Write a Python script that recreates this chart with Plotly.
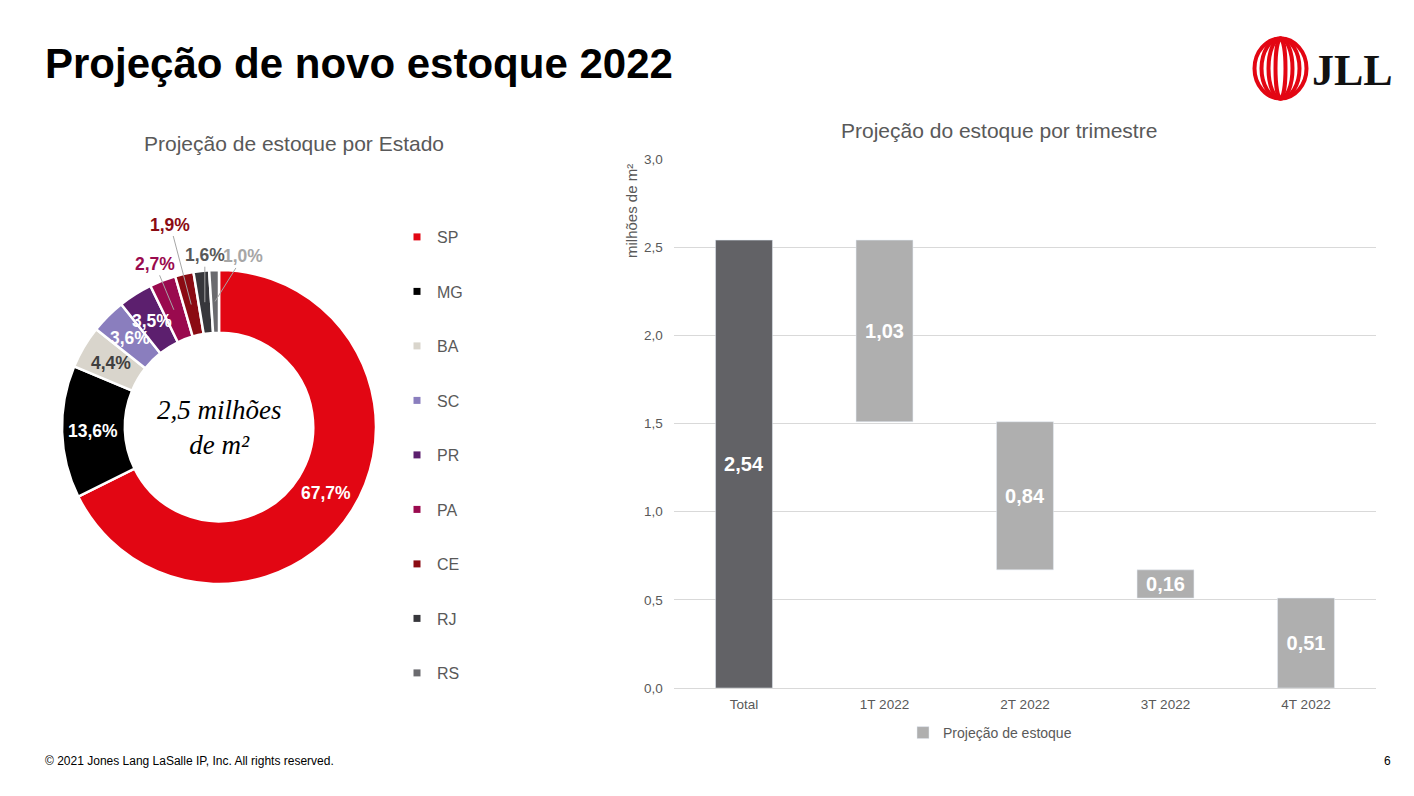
import math
import plotly.graph_objects as go

W, H = 1414, 796

# ---------------- data ----------------
states = ["SP", "MG", "BA", "SC", "PR", "PA", "CE", "RJ", "RS"]
shares = [67.7, 13.6, 4.4, 3.6, 3.5, 2.7, 1.9, 1.6, 1.0]

quarters = ["Total", "1T 2022", "2T 2022", "3T 2022", "4T 2022"]
total_stock = 2.54
quarter_values = [1.03, 0.84, 0.16, 0.51]
y_ticks = [0.0, 0.5, 1.0, 1.5, 2.0, 2.5, 3.0]

# ---------------- styles ----------------
state_colors = ["#E20613", "#000000", "#D9D5CC", "#8A7EBE", "#5C1F6E",
                "#9A0A4E", "#8B0B13", "#37373B", "#6B6B6F"]
label_colors = ["#FFFFFF", "#FFFFFF", "#404040", "#FFFFFF", "#FFFFFF",
                "#9A0A4E", "#8B0B13", "#595959", "#A6A6A6"]
# pixel offsets of outside labels (None = label inside ring)
label_offsets = [None, None, None, None, None, (-19, -46), (-21, -80), (0, -47), (28, -45)]
HOLE = 0.6
GREY_TXT = "#595959"
FONT = "Liberation Sans, Arial, sans-serif"
SERIF = "Liberation Serif, Times New Roman, serif"


def px(x):
    return x / W


def py(y):
    return (H - y) / H


def fmt(v, d):
    return f"{v:.{d}f}".replace(".", ",")


fig = go.Figure()

# ---------------- donut ----------------
pie_x = [px(62), px(376)]
pie_y = [py(584), py(270)]
fig.add_trace(go.Pie(
    labels=states, values=shares, hole=HOLE, sort=False, direction="clockwise",
    rotation=0, textinfo="none", showlegend=False, hoverinfo="label+percent",
    marker=dict(colors=state_colors, line=dict(color="white", width=2.5)),
    domain=dict(x=pie_x, y=pie_y),
))

# legend entries for the states (own legend with spacing)
for s, c in zip(states, state_colors):
    fig.add_trace(go.Scatter(
        x=[None], y=[None], mode="markers", name=s, legendgroup=s,
        marker=dict(symbol="square", size=7, color=c),
        xaxis="x2", yaxis="y2", legend="legend", showlegend=True,
    ))

# ---------------- waterfall ----------------
bases = []
remaining = total_stock
for v in quarter_values:
    remaining = round(remaining - v, 2)
    bases.append(remaining)

fig.add_trace(go.Bar(
    x=[quarters[0]], y=[total_stock], marker_color="#626266", width=0.405,
    text=[fmt(total_stock, 2)], textposition="inside", insidetextanchor="middle",
    textfont=dict(color="white", size=20, family=FONT, weight="bold"),
    constraintext="none", showlegend=False, name="Total",
))
fig.add_trace(go.Bar(
    x=quarters[1:], y=quarter_values, base=bases, marker_color="#AFAFAF", width=0.405,
    text=[fmt(v, 2) for v in quarter_values], textposition="inside",
    insidetextanchor="middle", constraintext="none",
    textfont=dict(color="white", size=20, family=FONT, weight="bold"),
    name="Projeção de estoque", legend="legend2", showlegend=True,
))

# ---------------- annotations ----------------
ann = []
r_mid = (1 + HOLE) / 2
cum = 0.0
tot = sum(shares)
for s, v, col, off in zip(states, shares, label_colors, label_offsets):
    mid = (cum + v / 2) / tot * 2 * math.pi
    cum += v
    x = r_mid * math.sin(mid)
    y = r_mid * math.cos(mid)
    a = dict(x=x, y=y, xref="x2", yref="y2", text=f"<b>{fmt(v, 1)}%</b>",
             xanchor="center", yanchor="middle",
             font=dict(size=17.5, color=col, family=FONT))
    if off is None:
        a.update(showarrow=False)
    else:
        a.update(showarrow=True, arrowhead=0, arrowwidth=1, arrowcolor="#A6A6A6",
                 ax=off[0], ay=off[1], standoff=0)
    ann.append(a)

ann.append(dict(x=0, y=0, xref="x2", yref="y2", showarrow=False,
                xanchor="center", yanchor="middle",
                text="<i>2,5 milhões<br>de m²</i>",
                font=dict(size=27, color="#000000", family=SERIF)))


def label(x, y, text, size, color=GREY_TXT, xa="center", ya="middle", family=FONT, angle=0):
    ann.append(dict(x=px(x), y=py(y), xref="paper", yref="paper", xanchor=xa, yanchor=ya,
                    showarrow=False, text=text, textangle=angle,
                    font=dict(size=size, color=color, family=family)))


label(43, 63, "<b>Projeção de novo estoque 2022</b>", 42, "#000000", xa="left")
label(294, 143, "Projeção de estoque por Estado", 21)
label(999, 130, "Projeção do estoque por trimestre", 21)
label(632, 211, "milhões de m²", 15, angle=-90)
label(43, 761, "© 2021 Jones Lang LaSalle IP, Inc. All rights reserved.", 12, "#000000", xa="left")
label(1393, 761, "6", 12, "#000000", xa="right")
label(1310, 70, "<b>JLL</b>", 44, "#111111", xa="left", family=SERIF)

# JLL logo rings (decoration)
shapes = []
cx, cy, ry = 1280.5, 68.5, 30
for rx in [26, 19, 12, 5]:
    shapes.append(dict(type="circle", xref="paper", yref="paper",
                       x0=px(cx - rx), x1=px(cx + rx), y0=py(cy + ry), y1=py(cy - ry),
                       line=dict(color="#E30613", width=4), fillcolor="rgba(0,0,0,0)"))

fig.update_layout(
    width=W, height=H, margin=dict(l=0, r=0, t=0, b=0, autoexpand=False),
    paper_bgcolor="white", plot_bgcolor="white",
    separators=",.", barmode="overlay",
    font=dict(family=FONT, color=GREY_TXT),
    annotations=ann, shapes=shapes,
    xaxis=dict(domain=[px(673.75), px(1376.25)], type="category",
               categoryorder="array", categoryarray=quarters,
               showgrid=False, showline=False, zeroline=False, ticks="",
               ticklabelstandoff=6, automargin=False,
               tickfont=dict(size=13.5, color=GREY_TXT), fixedrange=True),
    yaxis=dict(domain=[py(688), py(159)], range=[0, 3], tickvals=y_ticks, tickformat=".1f",
               showgrid=True, gridcolor="#D9D9D9", gridwidth=1, zeroline=True,
               zerolinecolor="#D9D9D9", zerolinewidth=1, showline=False, ticks="",
               ticklabelstandoff=10, automargin=False,
               tickfont=dict(size=13.5, color=GREY_TXT)),
    xaxis2=dict(domain=pie_x, range=[-1, 1], visible=False, anchor="y2", fixedrange=True),
    yaxis2=dict(domain=pie_y, range=[-1, 1], visible=False, anchor="x2", fixedrange=True),
    legend=dict(x=px(397), y=py(220), xanchor="left", yanchor="top",
                tracegroupgap=30.7, font=dict(size=16, color=GREY_TXT, family=FONT),
                bgcolor="rgba(0,0,0,0)", itemclick=False),
    legend2=dict(x=px(903), y=py(733), xanchor="left", yanchor="middle", orientation="h",
                 font=dict(size=14, color=GREY_TXT, family=FONT), bgcolor="rgba(0,0,0,0)"),
)

fig.write_html("out.html", config={"displayModeBar": False},
               post_script="document.body.style.margin='0';")
